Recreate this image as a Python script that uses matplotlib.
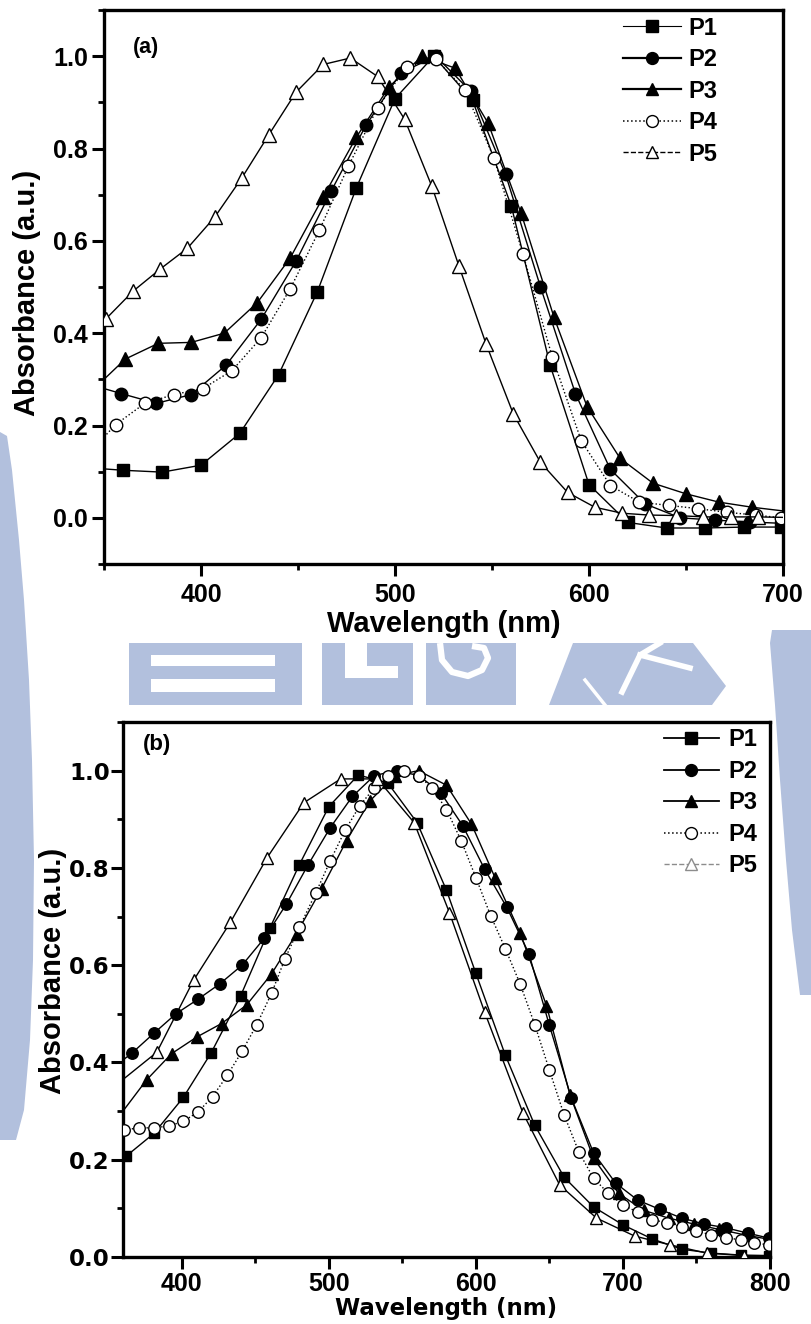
import matplotlib
matplotlib.use("Agg")
import matplotlib.pyplot as plt
from matplotlib.lines import Line2D
from matplotlib.patches import Polygon, Rectangle
from matplotlib.ticker import MultipleLocator, FormatStrFormatter

plt.rcParams["font.family"] = ["Liberation Sans", "DejaVu Sans"]
plt.rcParams["font.weight"] = "bold"

# ---------------- panel (a) ----------------
A_P1_WL = [350, 360, 380, 400, 420, 440, 460, 480, 500, 520, 540, 560, 580, 600, 620, 640, 660, 680, 699]
A_P1_AB = [0.106, 0.103, 0.099, 0.114, 0.183, 0.31, 0.49, 0.714, 0.908, 1.0, 0.904, 0.675, 0.33, 0.072,
           -0.01, -0.022, -0.022, -0.02, -0.02]

A_P2_WL = [350, 359, 377, 395, 413, 431, 449, 467, 485, 503, 521, 539, 557, 575, 593, 611, 629, 647, 665, 683, 700]
A_P2_AB = [0.28, 0.269, 0.248, 0.267, 0.331, 0.43, 0.556, 0.707, 0.85, 0.964, 1.0, 0.924, 0.744, 0.50,
           0.269, 0.105, 0.03, 0.0, -0.005, -0.009, -0.012]

A_P3_WL = [350, 361, 378, 395, 412, 429, 446, 463, 480, 497, 514, 531, 548, 565, 582, 599, 616, 633, 650, 667, 684, 700]
A_P3_AB = [0.30, 0.344, 0.378, 0.38, 0.40, 0.466, 0.563, 0.695, 0.824, 0.934, 1.0, 0.974, 0.855, 0.66,
           0.434, 0.241, 0.129, 0.075, 0.052, 0.034, 0.023, 0.015]

A_P4_WL = [350, 356, 371, 386, 401, 416, 431, 446, 461, 476, 491, 506, 521, 536, 551, 566, 581, 596, 611,
           626, 641, 656, 671, 686, 699]
A_P4_AB = [0.175, 0.202, 0.248, 0.267, 0.28, 0.319, 0.39, 0.496, 0.623, 0.762, 0.888, 0.977, 0.994, 0.927,
           0.779, 0.571, 0.349, 0.167, 0.07, 0.034, 0.027, 0.02, 0.012, 0.006, 0.0]

A_P5_WL = [351, 365, 379, 393, 407, 421, 435, 449, 463, 477, 491, 505, 519, 533, 547, 561, 575, 589, 603,
           617, 631, 645, 659, 673, 687, 700]
A_P5_AB = [0.431, 0.491, 0.539, 0.584, 0.651, 0.736, 0.83, 0.922, 0.982, 0.996, 0.956, 0.863, 0.718, 0.545,
           0.376, 0.225, 0.12, 0.055, 0.023, 0.01, 0.006, 0.005, 0.002, 0.002, 0.002, 0.001]

# ---------------- panel (b) ----------------
B_P1_WL = [362, 381, 401, 420, 440, 460, 480, 500, 520, 540, 560, 580, 600, 620, 640, 660, 680, 700, 720,
           740, 760, 780, 799]
B_P1_AB = [0.207, 0.254, 0.328, 0.42, 0.537, 0.677, 0.807, 0.926, 0.991, 0.975, 0.893, 0.754, 0.583, 0.415,
           0.271, 0.164, 0.103, 0.066, 0.037, 0.016, 0.008, 0.004, 0.003]

B_P2_WL = [360, 366, 381, 396, 411, 426, 441, 456, 471, 486, 501, 516, 531, 546, 561, 576, 591, 606, 621,
           636, 650, 665, 680, 695, 710, 725, 740, 755, 770, 785, 799]
B_P2_AB = [0.405, 0.419, 0.46, 0.50, 0.53, 0.562, 0.60, 0.655, 0.725, 0.807, 0.883, 0.947, 0.99, 1.0, 0.99,
           0.955, 0.887, 0.797, 0.719, 0.624, 0.476, 0.326, 0.214, 0.152, 0.117, 0.098, 0.08, 0.068, 0.06,
           0.049, 0.039]

B_P3_WL = [360, 376, 393, 410, 427, 444, 461, 478, 495, 512, 528, 545, 561, 580, 597, 613, 630, 648, 664,
           680, 697, 714, 731, 748, 765, 782, 800]
B_P3_AB = [0.30, 0.364, 0.418, 0.452, 0.48, 0.518, 0.582, 0.665, 0.757, 0.856, 0.938, 0.99, 1.0, 0.97, 0.89,
           0.78, 0.667, 0.517, 0.333, 0.203, 0.131, 0.096, 0.08, 0.068, 0.057, 0.046, 0.036]

B_P4_WL = [361, 371, 381, 391, 401, 411, 421, 431, 441, 451, 461, 470, 480, 491, 501, 511, 521, 531, 540,
           551, 561, 570, 580, 590, 600, 610, 620, 630, 640, 650, 660, 670, 680, 690, 700, 710, 720, 730,
           740, 750, 760, 770, 780, 789, 799]
B_P4_AB = [0.262, 0.265, 0.266, 0.269, 0.279, 0.298, 0.33, 0.374, 0.423, 0.478, 0.542, 0.612, 0.678, 0.748,
           0.815, 0.877, 0.928, 0.965, 0.99, 1.0, 0.99, 0.965, 0.92, 0.856, 0.78, 0.702, 0.634, 0.562, 0.478,
           0.384, 0.292, 0.216, 0.162, 0.131, 0.107, 0.092, 0.077, 0.07, 0.062, 0.054, 0.045, 0.04, 0.035,
           0.029, 0.025]

B_P5_WL = [360, 383, 408, 433, 458, 483, 508, 533, 558, 582, 606, 632, 657, 682, 708, 732, 757, 782, 800]
B_P5_AB = [0.365, 0.421, 0.569, 0.688, 0.821, 0.934, 0.983, 0.983, 0.893, 0.708, 0.503, 0.296, 0.148, 0.08,
           0.043, 0.025, 0.008, 0.003, 0.0]

LABELS = ["P1", "P2", "P3", "P4", "P5"]
MARKERS = ["s", "o", "^", "o", "^"]
FILLED = [True, True, True, False, False]
MSIZE = {"s": 8.5, "o": 9.0, "^": 9.5}

fig = plt.figure(figsize=(8.12, 13.24), dpi=100)

# faint logo watermark behind both panels (pixel coordinates, y down)
bg = fig.add_axes([0, 0, 1, 1], zorder=-10)
bg.set_xlim(0, 812)
bg.set_ylim(1324, 0)
bg.axis("off")
WM = "#b2c0dd"
bg.add_patch(Polygon([(0, 432), (7, 436), (12, 470), (19, 540), (24, 600), (29, 680), (32, 760), (34, 860),
                      (33, 960), (30, 1040), (24, 1110), (16, 1140), (0, 1140)], color=WM, lw=0))
bg.add_patch(Polygon([(772, 630), (812, 630), (812, 995), (800, 995), (792, 930), (786, 860), (780, 780),
                      (775, 705), (770, 643)], color=WM, lw=0))
bg.add_patch(Rectangle((129, 643), 173, 62, color=WM, lw=0))
bg.add_patch(Rectangle((151, 655), 124, 11, color="white", lw=0))
bg.add_patch(Rectangle((151, 679), 124, 13, color="white", lw=0))
bg.add_patch(Rectangle((322, 643), 91, 62, color=WM, lw=0))
bg.add_patch(Rectangle((345, 643), 22, 35, color="white", lw=0))
bg.add_patch(Rectangle((345, 666), 53, 12, color="white", lw=0))
bg.add_patch(Rectangle((426, 643), 90, 62, color=WM, lw=0))
bg.plot([440, 442, 452, 468, 482, 488, 484, 472], [643, 660, 672, 676, 670, 658, 648, 646],
        color="white", lw=4.5, solid_capstyle="butt")
bg.add_patch(Polygon([(573, 643), (693, 643), (726, 686), (712, 705), (549, 705)], color=WM, lw=0))
bg.plot([585, 605], [680, 705], color="white", lw=2.5)
bg.plot([622, 640, 660], [692, 655, 643], color="white", lw=4)
bg.plot([640, 690], [655, 668], color="white", lw=4)


def style_axes(ax, xlim, ylim, ylabel_xy, xpad):
    ax.set_xlim(*xlim)
    ax.set_ylim(*ylim)
    ax.xaxis.set_major_locator(MultipleLocator(100))
    ax.xaxis.set_minor_locator(MultipleLocator(50))
    ax.yaxis.set_major_locator(MultipleLocator(0.2))
    ax.yaxis.set_minor_locator(MultipleLocator(0.1))
    ax.yaxis.set_major_formatter(FormatStrFormatter("%.1f"))
    for sp in ax.spines.values():
        sp.set_linewidth(2.4)
    ax.tick_params(which="major", direction="out", length=8.5, width=2.2, labelsize=18, pad=3)
    ax.tick_params(which="minor", direction="out", length=4.5, width=2.0)
    ax.tick_params(top=False, right=False, which="both")
    ax.tick_params(axis="x", which="major", pad=xpad)
    ax.set_ylabel("Absorbance (a.u.)", fontsize=21, fontweight="bold")
    ax.yaxis.set_label_coords(*ylabel_xy)


def draw_series(ax, data, edges, ls_list, ms_scale=1.0):
    for (wl, ab), mk, filled, ls in zip(data, MARKERS, FILLED, ls_list):
        keep = [i for i, w in enumerate(wl) if w not in edges]
        ax.plot(wl, ab, color="black", lw=1.0, ls=ls, marker=mk, markevery=keep,
                ms=MSIZE[mk] * ms_scale, mfc="black" if filled else "white", mec="black", mew=1.0,
                zorder=3)


def legend_handles(colors, lws, lss):
    hs = []
    for lab, mk, filled, c, lw, ls in zip(LABELS, MARKERS, FILLED, colors, lws, lss):
        hs.append(Line2D([], [], color=c, lw=lw, ls=ls, marker=mk, ms=MSIZE[mk] * 0.95,
                         mfc=c if filled else "white", mec=c, mew=1.0, label=lab))
    return hs


# ---- panel (a) ----
ax1 = fig.add_axes([104 / 812, 1 - 564 / 1324, 679 / 812, 554 / 1324])
ax1.set_facecolor("white")
draw_series(ax1, [(A_P1_WL, A_P1_AB), (A_P2_WL, A_P2_AB), (A_P3_WL, A_P3_AB),
                  (A_P4_WL, A_P4_AB), (A_P5_WL, A_P5_AB)],
            edges=(350, 700), ls_list=["-", "-", "-", ":", "-"])
style_axes(ax1, (350, 700), (-0.1, 1.1), (-0.093, 0.49), xpad=5)
ax1.set_xlabel("Wavelength (nm)", fontsize=21, fontweight="bold", labelpad=2)
ax1.text(0.043, 0.952, "(a)", transform=ax1.transAxes, fontsize=15.5, fontweight="bold",
         ha="left", va="top")
ax1.legend(handles=legend_handles(["black"] * 5, [0.8, 1.6, 1.6, 1.1, 1.0], ["-", "-", "-", ":", "--"]),
           loc="upper left", bbox_to_anchor=(0.764, 0.988), frameon=False,
           handlelength=2.46, handletextpad=0.34, labelspacing=0.36, borderaxespad=0, borderpad=0,
           prop={"weight": "bold", "size": 17})

# ---- panel (b) ----
ax2 = fig.add_axes([123 / 812, 1 - 1257 / 1324, 647 / 812, 535 / 1324])
ax2.set_facecolor("white")
draw_series(ax2, [(B_P1_WL, B_P1_AB), (B_P2_WL, B_P2_AB), (B_P3_WL, B_P3_AB),
                  (B_P4_WL, B_P4_AB), (B_P5_WL, B_P5_AB)],
            edges=(360, 800), ls_list=["-", "-", "-", ":", "-"], ms_scale=0.92)
style_axes(ax2, (360, 800), (0.0, 1.1), (-0.087, 0.535), xpad=2.5)
ax2.set_xlabel("Wavelength (nm)", fontsize=16.5, fontweight="bold", family="DejaVu Sans")
ax2.xaxis.set_label_coords(0.5, -0.0755)
for lbl in ax2.get_yticklabels():
    lbl.set_fontfamily("DejaVu Sans")
    lbl.set_fontsize(16.5)
ax2.tick_params(axis="y", which="major", pad=1)
ax2.text(0.031, 0.978, "(b)", transform=ax2.transAxes, fontsize=16, fontweight="bold",
         ha="left", va="top")
ax2.legend(handles=legend_handles(["black"] * 4 + ["#8c8c8c"], [1.3, 1.3, 1.3, 1.1, 1.0],
                                  ["-", "-", "-", ":", "--"]),
           loc="upper left", bbox_to_anchor=(0.836, 0.988), frameon=False,
           handlelength=2.33, handletextpad=0.38, labelspacing=0.36, borderaxespad=0, borderpad=0,
           prop={"weight": "bold", "size": 17})

fig.savefig("out.png", dpi=100)
